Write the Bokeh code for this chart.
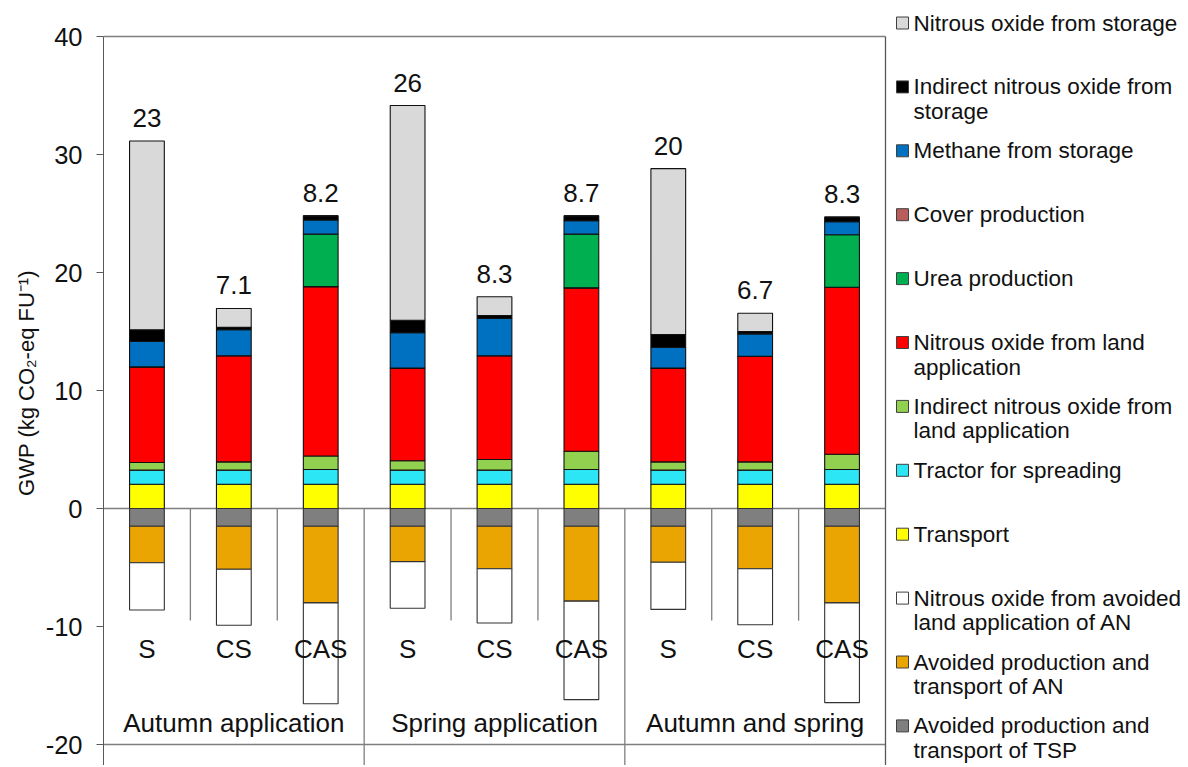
from bokeh.plotting import figure
from bokeh.models import Range1d, FixedTicker, ColumnDataSource, Title
from bokeh.core.properties import value
from bokeh.embed import file_html
from bokeh.resources import INLINE
import numpy as np

# ---------------- data ----------------
categories = ["S", "CS", "CAS", "S", "CS", "CAS", "S", "CS", "CAS"]
groups = ["Autumn application", "Spring application", "Autumn and spring"]
net_labels = ["23", "7.1", "8.2", "26", "8.3", "8.7", "20", "6.7", "8.3"]
y_ticks = [-20, -10, 0, 10, 20, 30, 40]
y_tick_labels = ["-20", "-10", "0", "10", "20", "30", "40"]

# positive contributions (stacked bottom -> top)
transport = [2.05, 2.05, 2.05, 2.05, 2.05, 2.05, 2.05, 2.05, 2.05]
tractor = [1.2, 1.2, 1.25, 1.2, 1.2, 1.25, 1.2, 1.2, 1.25]
ind_n2o_land = [0.65, 0.7, 1.15, 0.8, 0.9, 1.55, 0.7, 0.7, 1.3]
n2o_land = [8.1, 9.0, 14.35, 7.85, 8.8, 13.85, 7.95, 8.95, 14.15]
cover = [0, 0, 0, 0, 0, 0, 0, 0, 0]
urea = [0, 0, 4.45, 0, 0, 4.55, 0, 0, 4.45]
methane = [2.15, 2.2, 1.2, 3.0, 3.15, 1.15, 1.75, 1.9, 1.1]
ind_n2o_storage = [1.0, 0.2, 0.35, 1.05, 0.25, 0.4, 1.1, 0.2, 0.4]
n2o_storage = [16.0, 1.6, 0.0, 18.2, 1.6, 0.0, 14.05, 1.55, 0.0]

# negative contributions (stacked 0 -> down)
avoided_tsp = [-1.5, -1.5, -1.5, -1.5, -1.5, -1.5, -1.5, -1.5, -1.5]
avoided_an = [-3.1, -3.65, -6.5, -3.0, -3.6, -6.35, -3.05, -3.6, -6.5]
avoided_n2o_an = [-4.0, -4.75, -8.55, -3.95, -4.6, -8.35, -4.0, -4.75, -8.45]

pos_keys = ["transport", "tractor", "ind_n2o_land", "n2o_land", "cover", "urea",
            "methane", "ind_n2o_storage", "n2o_storage"]
pos_colors = ["#FFFF00", "#2CE5F5", "#92D050", "#FF0000", "#B85C5C", "#00B050",
              "#0070C0", "#000000", "#D9D9D9"]
neg_keys = ["avoided_tsp", "avoided_an", "avoided_n2o_an"]
neg_colors = ["#7F7F7F", "#EBA502", "#FFFFFF"]

legend_labels = [
    ["Nitrous oxide from storage"],
    ["Indirect nitrous oxide from", "storage"],
    ["Methane from storage"],
    ["Cover production"],
    ["Urea production"],
    ["Nitrous oxide from land", "application"],
    ["Indirect nitrous oxide from", "land application"],
    ["Tractor for spreading"],
    ["Transport"],
    ["Nitrous oxide from avoided", "land application of AN"],
    ["Avoided production and", "transport of AN"],
    ["Avoided production and", "transport of TSP"],
]
legend_colors = ["#D9D9D9", "#000000", "#0070C0", "#B85C5C", "#00B050", "#FF0000",
                 "#92D050", "#2CE5F5", "#FFFF00", "#FFFFFF", "#EBA502", "#7F7F7F"]

# ---------------- layout constants ----------------
ORIGIN = 0                 # page pixel where the figure starts
W, H = 1186, 765
BORDER_L = 103
N = len(categories)
PX_X = 782.0 / N           # pixels per category slot
PX_Y = 11.8                # pixels per y unit
Y_TOP_PX = 36              # position of y=40 from top of frame
y_top = 40 + Y_TOP_PX / PX_Y
y_bot = 40 - (H - Y_TOP_PX) / PX_Y
x_end = (W - BORDER_L) / PX_X
FONT = "Liberation Sans"
TXT = "#111111"
LINE = "#7F7F7F"

def page_y(py):
    return 40 - (py - ORIGIN - Y_TOP_PX) / PX_Y

def page_x(px):
    return (px - ORIGIN - BORDER_L) / PX_X

p = figure(width=W, height=H, x_range=Range1d(0, x_end), y_range=Range1d(y_bot, y_top),
           output_backend="svg", toolbar_location=None, x_axis_location=None,
           min_border_left=BORDER_L, min_border_right=0, min_border_top=0, min_border_bottom=0)
p.outline_line_color = None
p.grid.visible = False
p.background_fill_color = "white"
p.border_fill_color = "white"

ax = p.yaxis[0]
ax.ticker = FixedTicker(ticks=y_ticks)
ax.major_label_overrides = {t: s for t, s in zip(y_ticks, y_tick_labels)}
ax.bounds = (y_bot, 40)
ax.major_tick_out = 7
ax.major_tick_in = 0
ax.minor_tick_line_color = None
ax.axis_line_color = "#595959"
ax.major_tick_line_color = "#595959"
ax.major_label_text_font = FONT
ax.major_label_text_font_size = "25.5px"
ax.major_label_text_color = TXT
ax.major_label_standoff = 14

t = Title(text="GWP (kg CO₂-eq FU⁻¹)", align="center", text_font=FONT,
          text_font_size="22px", text_font_style="normal", text_color=TXT,
          offset=12, standoff=8)
p.add_layout(t, "left")

xs = [i + 0.5 for i in range(N)]

# structural lines of the category axis
group_size = 3
hy = [40, 0, -20]
p.segment(x0=[0] * len(hy), y0=hy, x1=[N] * len(hy), y1=hy, line_color=LINE, line_width=1.3)
p.segment(x0=[N], y0=[y_bot], x1=[N], y1=[40], line_color="#595959", line_width=1.3)
minor_div = [i for i in range(1, N) if i % group_size != 0]
major_div = [i for i in range(1, N) if i % group_size == 0]
p.segment(x0=minor_div, y0=[0] * len(minor_div), x1=minor_div, y1=[-9.5] * len(minor_div),
          line_color=LINE, line_width=1.3)
p.segment(x0=major_div, y0=[0] * len(major_div), x1=major_div, y1=[y_bot] * len(major_div),
          line_color=LINE, line_width=1.3)

data = dict(x=xs, transport=transport, tractor=tractor, ind_n2o_land=ind_n2o_land,
            n2o_land=n2o_land, cover=cover, urea=urea, methane=methane,
            ind_n2o_storage=ind_n2o_storage, n2o_storage=n2o_storage,
            avoided_tsp=avoided_tsp, avoided_an=avoided_an, avoided_n2o_an=avoided_n2o_an)
src = ColumnDataSource(data)

BAR_W = 0.4
p.vbar_stack(pos_keys, x="x", width=BAR_W, fill_color=pos_colors, line_color="#111111",
             line_width=1.1, source=src)
p.vbar_stack(neg_keys, x="x", width=BAR_W, fill_color=neg_colors, line_color="#333333",
             line_width=1.1, source=src)

tops = np.sum([np.array(data[k]) for k in pos_keys], axis=0)
p.text(x=xs, y=list(tops), text=net_labels, text_align="center", text_baseline="alphabetic",
       y_offset=-23, text_font=value(FONT), text_font_size="26px", text_color=TXT)

p.text(x=xs, y=[page_y(648)] * N, text=categories, text_align="center",
       text_baseline="alphabetic", text_font=value(FONT), text_font_size="26px", text_color=TXT)
gx = [g * group_size + group_size / 2 for g in range(len(groups))]
p.text(x=gx, y=[page_y(722)] * len(groups), text=groups, text_align="center",
       text_baseline="alphabetic", text_font=value(FONT), text_font_size="26px", text_color=TXT)

# legend (drawn in the frame's right part)
LEG_Y0 = 22.5
LEG_STEP = 63.9
LEG_LINE = 24.5
sq_x, sq_y, tx, ty, tt = [], [], [], [], []
for i, lines in enumerate(legend_labels):
    cy = LEG_Y0 + i * LEG_STEP
    sq_x.append(page_x(902))
    sq_y.append(page_y(cy))
    for j, line in enumerate(lines):
        tx.append(page_x(913))
        ty.append(page_y(cy + j * LEG_LINE))
        tt.append(line)
p.scatter(x=sq_x, y=sq_y, marker="square", size=12, fill_color=legend_colors,
          line_color="#404040", line_width=1)
p.text(x=tx, y=ty, text=tt, text_align="left", text_baseline="middle",
       text_font=value(FONT), text_font_size="22.5px", text_color=TXT)

open("out.html", "w").write(file_html(p, INLINE))
